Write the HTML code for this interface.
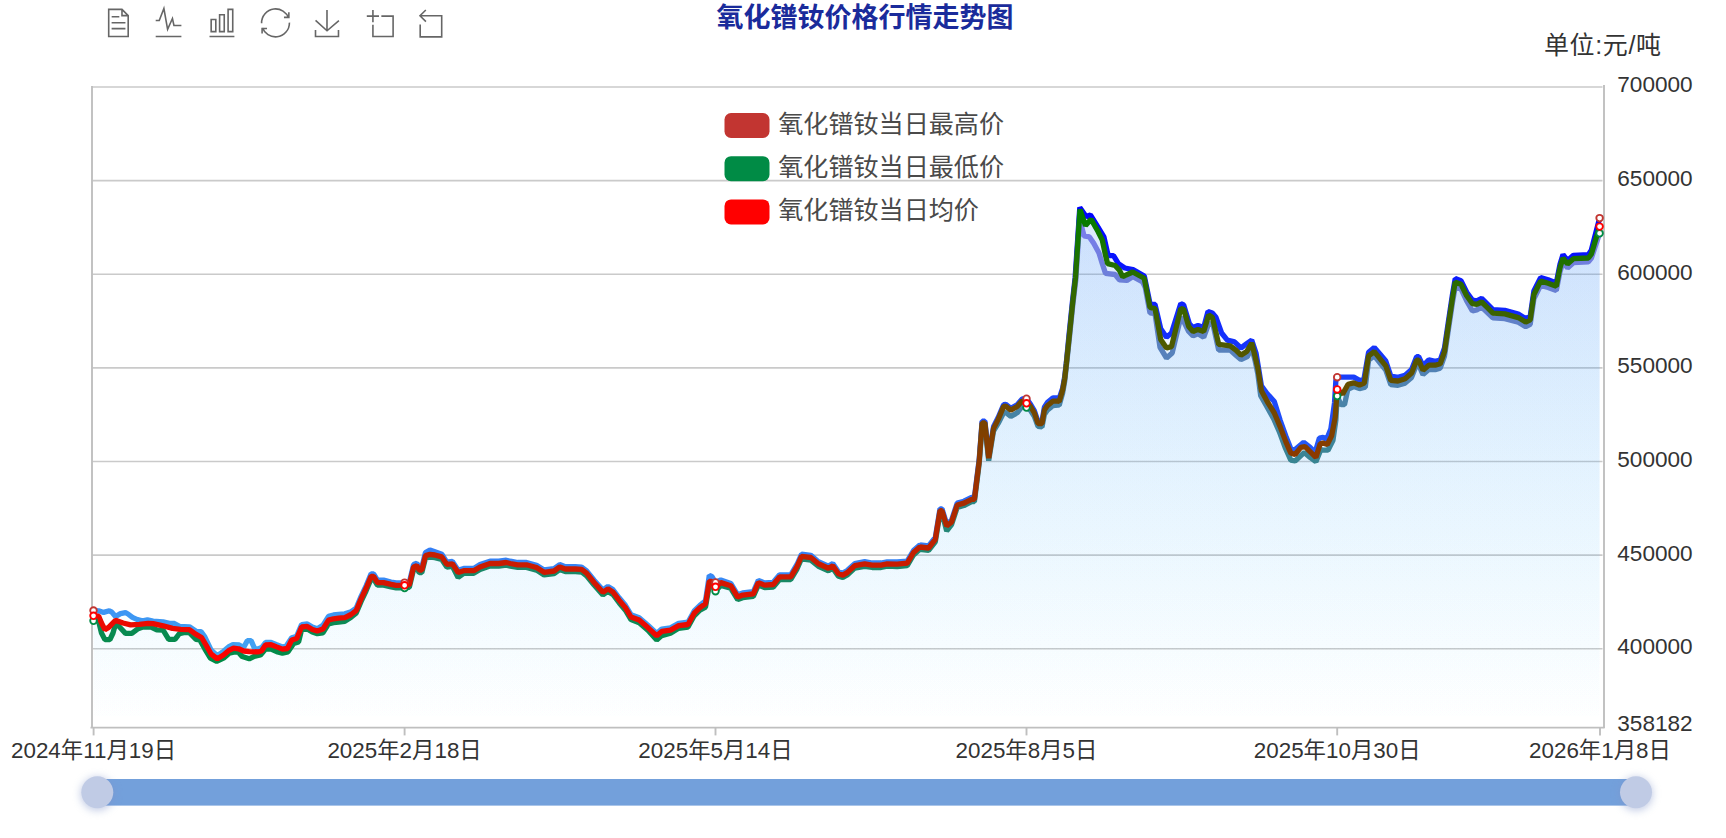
<!DOCTYPE html>
<html lang="zh-CN"><head><meta charset="utf-8"><title>氧化镨钕价格行情走势图</title>
<style>
html,body{margin:0;padding:0;background:#fff;}
body{width:1726px;height:838px;overflow:hidden;font-family:"Liberation Sans","Noto Sans CJK SC",sans-serif;}
svg{display:block;}
text{font-family:"Liberation Sans","Noto Sans CJK SC",sans-serif;}
</style></head><body>
<svg width="1726" height="838" viewBox="0 0 1726 838">
<defs>
<linearGradient id="gAvg" gradientUnits="userSpaceOnUse" x1="0" y1="207" x2="0" y2="660"><stop offset="0" stop-color="#008000"/><stop offset="1" stop-color="#ff0000"/></linearGradient>
<linearGradient id="gHigh" gradientUnits="userSpaceOnUse" x1="0" y1="205" x2="0" y2="657"><stop offset="0" stop-color="#0000ff"/><stop offset="1" stop-color="#44a6f2"/></linearGradient>
<linearGradient id="gLow" gradientUnits="userSpaceOnUse" x1="0" y1="211" x2="0" y2="663"><stop offset="0" stop-color="#7f7df2"/><stop offset="1" stop-color="#008b45"/></linearGradient>
<linearGradient id="gArea" gradientUnits="userSpaceOnUse" x1="0" y1="207" x2="0" y2="727"><stop offset="0" stop-color="#3a84f5" stop-opacity="0.097"/><stop offset="1" stop-color="#34c4ff" stop-opacity="0"/></linearGradient>
<filter id="hs" x="-100%" y="-100%" width="300%" height="300%"><feGaussianBlur stdDeviation="4.5"/></filter>
</defs>
<rect width="1726" height="838" fill="#fff"/>

<line x1="92" y1="87.0" x2="1602.5" y2="87.0" stroke="#cacaca" stroke-width="1.6"/>
<line x1="92" y1="180.6" x2="1602.5" y2="180.6" stroke="#cacaca" stroke-width="1.6"/>
<line x1="92" y1="274.2" x2="1602.5" y2="274.2" stroke="#cacaca" stroke-width="1.6"/>
<line x1="92" y1="367.9" x2="1602.5" y2="367.9" stroke="#cacaca" stroke-width="1.6"/>
<line x1="92" y1="461.5" x2="1602.5" y2="461.5" stroke="#cacaca" stroke-width="1.6"/>
<line x1="92" y1="555.1" x2="1602.5" y2="555.1" stroke="#cacaca" stroke-width="1.6"/>
<line x1="92" y1="648.7" x2="1602.5" y2="648.7" stroke="#cacaca" stroke-width="1.6"/>
<line x1="92" y1="86" x2="92" y2="728" stroke="#bfbfbf" stroke-width="1.9"/>
<line x1="1604" y1="85" x2="1604" y2="728" stroke="#bfbfbf" stroke-width="1.9"/>
<line x1="90.5" y1="727.6" x2="1604.6" y2="727.6" stroke="#bfbfbf" stroke-width="1.9"/>
<line x1="93.6" y1="727.6" x2="93.6" y2="735.4" stroke="#bfbfbf" stroke-width="1.9"/>
<line x1="404.6" y1="727.6" x2="404.6" y2="735.4" stroke="#bfbfbf" stroke-width="1.9"/>
<line x1="715.5" y1="727.6" x2="715.5" y2="735.4" stroke="#bfbfbf" stroke-width="1.9"/>
<line x1="1026.5" y1="727.6" x2="1026.5" y2="735.4" stroke="#bfbfbf" stroke-width="1.9"/>
<line x1="1337.2" y1="727.6" x2="1337.2" y2="735.4" stroke="#bfbfbf" stroke-width="1.9"/>
<line x1="1600.0" y1="727.6" x2="1600.0" y2="735.4" stroke="#bfbfbf" stroke-width="1.9"/>
<path d="M93.5,727.5 L93.5,610.5 L98.6,610.8 L103.6,612.4 L109.3,610.8 L111.8,612.1 L115.5,616.5 L120.5,613.6 L125.5,612.7 L128.0,614.0 L132.4,617.4 L137.4,619.6 L142.4,620.8 L147.4,619.9 L153.1,621.2 L163.1,621.8 L169.4,623.3 L174.4,623.5 L180.0,626.5 L189.4,626.8 L196.0,631.3 L201.0,631.6 L204.8,636.9 L211.0,650.0 L217.3,655.7 L223.5,651.3 L228.5,646.9 L232.9,644.7 L239.2,645.0 L243.6,647.5 L247.3,640.7 L251.1,640.7 L254.8,648.8 L258.6,648.8 L261.7,647.5 L265.5,642.5 L271.1,642.5 L276.7,644.7 L282.4,646.9 L286.1,646.3 L291.7,637.8 L296.1,636.6 L296.7,636.1 L301.6,624.6 L307.3,624.0 L312.3,627.1 L317.3,628.7 L322.9,625.3 L328.5,616.3 L333.5,615.0 L338.6,614.4 L344.8,613.8 L351.1,611.7 L356.1,608.3 L361.1,596.4 L366.1,585.8 L371.1,573.9 L373.6,573.9 L377.4,580.2 L383.6,580.2 L391.1,582.0 L396.1,582.9 L404.6,582.9 L409.3,582.4 L413.6,564.5 L416.8,563.3 L419.3,567.6 L421.8,567.4 L425.5,552.5 L429.9,550.0 L434.9,551.8 L441.8,554.3 L446.8,562.1 L452.4,561.5 L458.1,570.2 L463.7,568.4 L473.7,568.4 L480.0,564.6 L490.0,561.2 L498.8,561.2 L506.3,560.2 L510.3,561.2 L517.8,562.5 L526.5,562.5 L536.5,565.2 L544.1,570.0 L554.1,568.7 L559.7,564.6 L565.3,566.7 L575.3,566.7 L581.6,567.1 L586.6,570.9 L594.1,580.2 L602.9,590.0 L607.9,586.5 L612.9,589.6 L619.1,597.8 L625.4,605.3 L631.0,614.7 L639.2,617.8 L647.9,625.3 L656.7,633.4 L661.7,629.1 L670.5,627.8 L678.6,623.4 L688.0,622.2 L694.2,610.9 L699.9,605.3 L705.5,600.9 L709.3,575.4 L711.8,576.5 L715.5,582.5 L720.8,580.0 L730.8,583.5 L737.7,594.8 L742.7,592.9 L753.3,591.7 L758.3,580.4 L764.6,582.9 L773.3,582.3 L779.6,574.8 L790.8,574.8 L797.1,564.2 L801.5,554.2 L810.9,555.4 L818.4,561.7 L828.4,566.1 L832.8,563.6 L838.4,571.7 L842.8,573.0 L847.2,570.5 L854.7,563.6 L864.7,561.7 L872.2,563.0 L881.0,563.0 L887.2,561.8 L897.2,562.0 L907.2,561.2 L913.5,550.5 L919.8,544.9 L920.0,545.0 L928.6,546.0 L935.3,537.4 L940.0,508.8 L942.0,508.8 L946.7,524.1 L951.5,520.3 L957.2,503.1 L963.9,501.2 L971.6,497.4 L974.4,497.4 L979.2,459.2 L982.1,421.1 L984.9,421.1 L988.7,456.4 L993.5,426.8 L998.3,417.3 L1003.6,404.7 L1005.8,404.4 L1010.8,408.3 L1017.2,404.7 L1022.2,399.0 L1026.5,398.7 L1030.1,403.5 L1034.4,410.9 L1038.0,421.5 L1042.0,421.1 L1044.4,407.2 L1047.3,402.6 L1051.6,399.0 L1053.0,398.0 L1058.0,398.0 L1059.2,398.7 L1062.6,388.4 L1064.7,376.8 L1066.4,361.9 L1068.9,336.0 L1072.3,303.0 L1075.1,278.0 L1079.8,207.5 L1086.1,216.5 L1090.4,214.9 L1098.0,227.2 L1103.9,236.9 L1107.6,253.0 L1108.7,255.7 L1113.5,255.7 L1118.4,263.7 L1124.8,268.0 L1133.0,269.6 L1144.3,276.0 L1150.0,303.6 L1155.0,304.3 L1160.7,328.7 L1166.5,337.3 L1171.5,333.0 L1180.8,303.6 L1183.7,305.0 L1189.4,323.7 L1193.0,327.5 L1198.0,325.5 L1203.7,327.5 L1208.0,311.5 L1212.3,312.9 L1215.9,317.2 L1221.6,333.0 L1227.3,340.1 L1234.5,341.8 L1240.9,348.0 L1246.7,343.7 L1251.7,340.1 L1256.0,353.0 L1257.9,364.3 L1261.4,385.8 L1267.2,393.7 L1274.3,401.5 L1280.1,420.1 L1285.8,435.9 L1290.8,448.8 L1295.1,449.5 L1303.7,442.3 L1310.1,447.4 L1315.1,452.4 L1319.4,438.0 L1323.0,437.3 L1326.6,439.5 L1330.9,428.7 L1334.5,403.0 L1335.9,380.0 L1337.2,377.2 L1353.8,377.2 L1359.5,380.3 L1363.8,380.0 L1368.6,352.3 L1374.3,347.5 L1380.1,354.2 L1385.8,361.0 L1390.8,376.1 L1398.0,377.4 L1405.1,375.2 L1411.6,369.5 L1416.6,356.6 L1418.7,356.6 L1423.0,365.9 L1428.8,359.9 L1435.2,361.4 L1440.2,360.2 L1444.5,348.0 L1448.1,323.7 L1452.4,295.0 L1455.2,278.6 L1461.0,280.7 L1466.7,292.2 L1472.4,300.1 L1476.7,300.9 L1481.7,298.5 L1487.7,304.4 L1492.9,309.6 L1504.8,310.4 L1518.3,314.1 L1525.7,318.6 L1530.2,316.4 L1533.9,291.0 L1540.6,277.6 L1548.1,279.8 L1556.3,282.9 L1560.0,264.2 L1563.0,254.6 L1567.5,260.5 L1573.4,255.3 L1588.4,254.6 L1591.3,250.1 L1599.6,218.1 L1599.6,727.5 Z" fill="url(#gArea)"/>
<path d="M93.5,727.5 L93.5,620.8 L98.6,621.2 L101.5,633.0 L104.9,639.6 L109.9,639.6 L113.0,633.0 L115.8,623.0 L120.5,628.0 L125.5,633.4 L131.8,633.4 L138.1,628.7 L143.1,627.1 L150.6,626.8 L156.8,629.9 L163.1,630.2 L168.7,639.3 L175.0,639.3 L179.4,633.7 L183.7,632.7 L189.4,632.7 L196.0,639.4 L199.8,640.0 L204.8,648.8 L210.4,658.2 L216.7,661.3 L223.5,658.2 L229.2,653.2 L234.8,651.9 L238.6,652.5 L242.3,656.6 L249.2,658.8 L254.2,656.3 L260.5,655.0 L265.5,649.1 L270.5,648.8 L276.7,651.6 L282.4,653.2 L288.0,651.9 L293.6,643.5 L298.6,641.9 L301.6,629.6 L307.3,629.0 L312.3,632.1 L317.3,633.7 L322.9,632.9 L328.5,623.9 L333.5,622.6 L338.6,622.0 L344.8,621.4 L351.1,617.3 L356.1,613.3 L361.1,601.4 L366.1,590.8 L371.1,578.9 L373.6,578.9 L377.4,585.2 L383.6,585.2 L391.1,587.0 L396.1,587.9 L404.6,587.9 L409.3,587.4 L413.6,569.5 L416.8,568.3 L419.3,572.6 L421.8,572.6 L425.5,558.2 L429.9,557.0 L434.9,557.6 L441.8,559.5 L446.8,567.0 L452.4,566.4 L458.1,577.5 L463.7,573.3 L473.7,573.3 L480.0,569.5 L490.0,566.1 L498.8,566.1 L506.3,565.1 L510.3,566.1 L517.8,567.4 L526.5,567.4 L536.5,570.1 L544.1,574.9 L554.1,573.6 L559.7,569.5 L565.3,571.6 L575.3,571.6 L581.6,572.0 L586.6,575.8 L594.1,585.1 L602.9,594.9 L607.9,591.4 L612.9,594.5 L619.1,602.7 L625.4,610.2 L631.0,619.6 L639.2,622.7 L647.9,630.2 L656.7,639.9 L661.7,635.6 L670.5,633.3 L678.6,628.3 L688.0,627.1 L694.2,615.8 L699.9,610.2 L705.5,607.1 L709.3,585.0 L711.8,585.3 L715.5,591.3 L720.8,585.5 L730.8,588.3 L737.7,599.6 L742.7,597.7 L753.3,596.4 L758.3,585.1 L764.6,587.6 L773.3,587.0 L779.6,579.5 L790.8,579.5 L797.1,568.8 L801.5,558.8 L810.9,560.1 L818.4,566.3 L828.4,570.7 L832.8,568.2 L838.4,576.3 L842.8,577.5 L847.2,575.0 L854.7,568.1 L864.7,566.3 L872.2,567.5 L881.0,567.5 L887.2,566.2 L897.2,566.5 L907.2,565.6 L913.5,554.9 L919.8,549.3 L920.0,549.4 L928.6,550.4 L935.3,541.8 L940.0,513.1 L942.0,513.1 L946.7,531.0 L951.5,524.6 L957.2,507.4 L963.9,505.5 L971.6,501.7 L974.4,501.7 L979.2,463.6 L982.1,425.4 L984.9,425.4 L988.7,460.7 L993.5,431.1 L998.3,423.2 L1003.6,412.8 L1005.8,412.5 L1010.8,416.4 L1017.2,412.8 L1022.2,406.2 L1026.5,407.6 L1030.1,409.9 L1034.4,416.5 L1038.0,426.4 L1042.0,427.0 L1044.4,414.6 L1047.3,410.3 L1051.6,406.7 L1053.0,405.7 L1058.0,405.2 L1059.2,405.2 L1062.6,393.2 L1064.7,381.2 L1066.4,365.8 L1069.4,338.0 L1072.8,305.0 L1075.8,280.0 L1080.2,212.0 L1082.0,228.3 L1084.0,235.8 L1089.4,236.9 L1093.7,243.3 L1099.0,253.0 L1102.3,263.7 L1105.5,273.4 L1115.1,274.5 L1119.4,279.8 L1126.9,280.4 L1133.0,276.6 L1142.6,281.8 L1145.2,287.3 L1150.0,312.9 L1155.0,313.6 L1160.0,347.3 L1166.5,358.0 L1172.2,353.0 L1180.8,317.2 L1184.4,322.9 L1188.7,331.5 L1193.0,335.8 L1198.0,333.7 L1203.7,337.3 L1208.7,323.7 L1213.0,324.4 L1218.7,350.1 L1230.2,350.1 L1235.9,355.2 L1240.9,359.5 L1247.4,356.6 L1251.7,347.3 L1255.3,361.6 L1257.9,374.3 L1260.7,395.8 L1267.2,407.3 L1273.6,418.7 L1279.3,431.6 L1285.1,447.4 L1290.8,460.2 L1295.1,461.0 L1304.4,452.4 L1310.1,457.4 L1315.9,461.7 L1320.9,449.5 L1323.7,450.2 L1328.0,450.2 L1333.0,440.2 L1335.9,420.1 L1337.2,396.1 L1340.9,404.7 L1344.5,404.7 L1347.8,389.4 L1353.8,386.5 L1359.5,388.6 L1365.3,387.2 L1368.6,360.1 L1374.3,355.8 L1380.1,363.0 L1385.8,370.2 L1390.8,384.6 L1398.0,385.3 L1405.1,383.1 L1411.6,377.4 L1416.6,364.6 L1418.7,364.6 L1423.0,374.6 L1428.8,369.6 L1435.2,369.6 L1440.2,368.2 L1444.5,356.0 L1448.1,331.7 L1452.4,303.1 L1455.2,286.7 L1461.0,288.8 L1466.7,301.0 L1472.4,311.0 L1476.7,309.9 L1481.7,307.0 L1487.7,312.8 L1492.9,317.9 L1504.8,318.6 L1518.3,322.2 L1525.7,326.6 L1530.2,324.3 L1533.9,298.9 L1540.6,285.4 L1548.1,287.5 L1556.3,290.5 L1560.0,271.7 L1563.0,262.1 L1567.5,267.9 L1573.4,262.7 L1588.4,261.8 L1591.3,258.4 L1599.6,233.3 L1599.6,727.5 Z" fill="url(#gArea)"/>
<path d="M93.5,727.5 L93.5,615.8 L98.6,616.1 L101.5,623.0 L104.9,629.6 L108.7,627.4 L115.5,620.2 L123.0,623.0 L130.6,624.9 L139.3,624.3 L148.1,623.3 L153.1,623.7 L163.1,625.8 L172.5,628.4 L180.6,629.3 L189.4,629.6 L196.0,634.4 L201.6,637.5 L206.0,645.0 L211.0,653.8 L217.3,658.8 L223.5,655.0 L228.5,650.7 L233.5,648.2 L238.6,648.8 L243.6,651.0 L249.2,651.6 L258.6,651.9 L261.7,650.7 L265.5,645.0 L271.1,644.7 L276.7,646.9 L282.4,649.1 L287.4,648.5 L291.7,640.0 L296.7,638.5 L301.6,627.0 L307.3,626.4 L312.3,629.5 L317.3,631.1 L322.9,629.1 L328.5,620.1 L333.5,618.8 L338.6,618.2 L344.8,617.6 L351.1,614.5 L356.1,610.7 L361.1,598.8 L366.1,588.2 L371.1,576.3 L373.6,576.3 L377.4,582.6 L383.6,582.6 L391.1,584.4 L396.1,585.3 L404.6,585.3 L409.3,584.8 L413.6,566.9 L416.8,565.7 L419.3,570.0 L421.8,570.0 L425.5,555.6 L429.9,554.4 L434.9,555.0 L441.8,556.9 L446.8,564.4 L452.4,563.8 L458.1,572.5 L463.7,570.7 L473.7,570.7 L480.0,566.9 L490.0,563.5 L498.8,563.5 L506.3,562.5 L510.3,563.5 L517.8,564.8 L526.5,564.8 L536.5,567.5 L544.1,572.3 L554.1,571.0 L559.7,566.9 L565.3,569.0 L575.3,569.0 L581.6,569.4 L586.6,573.2 L594.1,582.5 L602.9,592.3 L607.9,588.8 L612.9,591.9 L619.1,600.1 L625.4,607.6 L631.0,617.0 L639.2,620.1 L647.9,627.6 L656.7,635.7 L661.7,631.4 L670.5,630.1 L678.6,625.7 L688.0,624.5 L694.2,613.2 L699.9,607.6 L705.5,603.8 L709.3,581.3 L711.8,581.3 L715.5,586.9 L720.8,582.6 L730.8,585.7 L737.7,597.0 L742.7,595.1 L753.3,593.8 L758.3,582.6 L764.6,585.1 L773.3,584.5 L779.6,576.9 L790.8,576.9 L797.1,566.3 L801.5,556.3 L810.9,557.5 L818.4,563.8 L828.4,568.2 L832.8,565.7 L838.4,573.8 L842.8,575.1 L847.2,572.6 L854.7,565.7 L864.7,563.8 L872.2,565.1 L881.0,565.1 L887.2,563.8 L897.2,564.1 L907.2,563.2 L913.5,552.5 L919.8,546.9 L920.0,547.0 L928.6,548.0 L935.3,539.4 L940.0,510.7 L942.0,510.7 L946.7,526.0 L951.5,522.2 L957.2,505.0 L963.9,503.1 L971.6,499.3 L974.4,499.3 L979.2,461.1 L982.1,422.9 L984.9,422.9 L988.7,458.2 L993.5,428.6 L998.3,419.1 L1003.6,406.5 L1005.8,406.2 L1010.8,410.1 L1017.2,406.5 L1022.2,400.8 L1026.5,403.3 L1030.1,405.8 L1034.4,413.0 L1038.0,423.5 L1042.0,423.5 L1044.4,410.1 L1047.3,405.8 L1051.6,402.2 L1053.0,401.2 L1058.0,401.2 L1059.2,401.5 L1062.6,390.3 L1064.7,378.6 L1066.4,363.5 L1069.2,336.8 L1072.6,303.4 L1075.5,278.0 L1080.0,209.5 L1085.5,225.6 L1091.0,219.3 L1098.0,231.5 L1102.3,240.1 L1105.5,255.1 L1107.6,263.7 L1115.1,265.5 L1119.4,270.2 L1122.7,276.7 L1132.7,272.0 L1144.2,278.3 L1150.0,307.5 L1155.0,308.6 L1160.7,339.4 L1166.5,348.0 L1171.5,346.6 L1180.8,308.6 L1183.7,309.3 L1188.7,326.5 L1193.0,331.5 L1198.0,329.4 L1203.7,331.5 L1208.7,315.1 L1212.3,317.2 L1218.7,344.4 L1230.2,345.8 L1235.9,350.1 L1240.9,355.2 L1246.7,351.6 L1251.7,343.0 L1255.3,357.3 L1257.9,368.6 L1261.4,390.8 L1267.2,401.5 L1274.3,413.0 L1280.1,426.6 L1285.8,441.6 L1290.8,453.1 L1295.1,454.5 L1300.8,447.4 L1305.1,446.6 L1310.1,451.7 L1315.9,457.4 L1320.2,443.8 L1323.0,443.1 L1327.3,444.5 L1331.6,435.9 L1335.2,417.3 L1337.2,389.4 L1342.6,394.1 L1348.1,384.3 L1353.8,382.9 L1359.5,385.1 L1364.3,383.1 L1368.6,355.9 L1374.3,351.6 L1380.1,358.8 L1385.8,365.9 L1390.8,380.3 L1398.0,381.0 L1405.1,378.8 L1411.6,373.1 L1416.6,360.2 L1418.7,360.2 L1423.0,370.2 L1428.8,365.2 L1435.2,365.2 L1440.2,363.8 L1444.5,351.6 L1448.1,327.3 L1452.4,298.6 L1455.2,282.2 L1461.0,284.3 L1466.7,295.8 L1472.4,303.7 L1476.7,304.4 L1481.7,302.0 L1487.7,307.9 L1492.9,313.1 L1504.8,313.9 L1518.3,317.6 L1525.7,322.1 L1530.2,319.9 L1533.9,294.5 L1540.6,281.1 L1548.1,283.3 L1556.3,286.3 L1560.0,267.6 L1563.0,258.0 L1567.5,263.9 L1573.4,258.7 L1588.4,258.0 L1591.3,254.2 L1599.6,226.6 L1599.6,727.5 Z" fill="url(#gArea)"/>
<polyline points="93.5,610.5 98.6,610.8 103.6,612.4 109.3,610.8 111.8,612.1 115.5,616.5 120.5,613.6 125.5,612.7 128.0,614.0 132.4,617.4 137.4,619.6 142.4,620.8 147.4,619.9 153.1,621.2 163.1,621.8 169.4,623.3 174.4,623.5 180.0,626.5 189.4,626.8 196.0,631.3 201.0,631.6 204.8,636.9 211.0,650.0 217.3,655.7 223.5,651.3 228.5,646.9 232.9,644.7 239.2,645.0 243.6,647.5 247.3,640.7 251.1,640.7 254.8,648.8 258.6,648.8 261.7,647.5 265.5,642.5 271.1,642.5 276.7,644.7 282.4,646.9 286.1,646.3 291.7,637.8 296.1,636.6 296.7,636.1 301.6,624.6 307.3,624.0 312.3,627.1 317.3,628.7 322.9,625.3 328.5,616.3 333.5,615.0 338.6,614.4 344.8,613.8 351.1,611.7 356.1,608.3 361.1,596.4 366.1,585.8 371.1,573.9 373.6,573.9 377.4,580.2 383.6,580.2 391.1,582.0 396.1,582.9 404.6,582.9 409.3,582.4 413.6,564.5 416.8,563.3 419.3,567.6 421.8,567.4 425.5,552.5 429.9,550.0 434.9,551.8 441.8,554.3 446.8,562.1 452.4,561.5 458.1,570.2 463.7,568.4 473.7,568.4 480.0,564.6 490.0,561.2 498.8,561.2 506.3,560.2 510.3,561.2 517.8,562.5 526.5,562.5 536.5,565.2 544.1,570.0 554.1,568.7 559.7,564.6 565.3,566.7 575.3,566.7 581.6,567.1 586.6,570.9 594.1,580.2 602.9,590.0 607.9,586.5 612.9,589.6 619.1,597.8 625.4,605.3 631.0,614.7 639.2,617.8 647.9,625.3 656.7,633.4 661.7,629.1 670.5,627.8 678.6,623.4 688.0,622.2 694.2,610.9 699.9,605.3 705.5,600.9 709.3,575.4 711.8,576.5 715.5,582.5 720.8,580.0 730.8,583.5 737.7,594.8 742.7,592.9 753.3,591.7 758.3,580.4 764.6,582.9 773.3,582.3 779.6,574.8 790.8,574.8 797.1,564.2 801.5,554.2 810.9,555.4 818.4,561.7 828.4,566.1 832.8,563.6 838.4,571.7 842.8,573.0 847.2,570.5 854.7,563.6 864.7,561.7 872.2,563.0 881.0,563.0 887.2,561.8 897.2,562.0 907.2,561.2 913.5,550.5 919.8,544.9 920.0,545.0 928.6,546.0 935.3,537.4 940.0,508.8 942.0,508.8 946.7,524.1 951.5,520.3 957.2,503.1 963.9,501.2 971.6,497.4 974.4,497.4 979.2,459.2 982.1,421.1 984.9,421.1 988.7,456.4 993.5,426.8 998.3,417.3 1003.6,404.7 1005.8,404.4 1010.8,408.3 1017.2,404.7 1022.2,399.0 1026.5,398.7 1030.1,403.5 1034.4,410.9 1038.0,421.5 1042.0,421.1 1044.4,407.2 1047.3,402.6 1051.6,399.0 1053.0,398.0 1058.0,398.0 1059.2,398.7 1062.6,388.4 1064.7,376.8 1066.4,361.9 1068.9,336.0 1072.3,303.0 1075.1,278.0 1079.8,207.5 1086.1,216.5 1090.4,214.9 1098.0,227.2 1103.9,236.9 1107.6,253.0 1108.7,255.7 1113.5,255.7 1118.4,263.7 1124.8,268.0 1133.0,269.6 1144.3,276.0 1150.0,303.6 1155.0,304.3 1160.7,328.7 1166.5,337.3 1171.5,333.0 1180.8,303.6 1183.7,305.0 1189.4,323.7 1193.0,327.5 1198.0,325.5 1203.7,327.5 1208.0,311.5 1212.3,312.9 1215.9,317.2 1221.6,333.0 1227.3,340.1 1234.5,341.8 1240.9,348.0 1246.7,343.7 1251.7,340.1 1256.0,353.0 1257.9,364.3 1261.4,385.8 1267.2,393.7 1274.3,401.5 1280.1,420.1 1285.8,435.9 1290.8,448.8 1295.1,449.5 1303.7,442.3 1310.1,447.4 1315.1,452.4 1319.4,438.0 1323.0,437.3 1326.6,439.5 1330.9,428.7 1334.5,403.0 1335.9,380.0 1337.2,377.2 1353.8,377.2 1359.5,380.3 1363.8,380.0 1368.6,352.3 1374.3,347.5 1380.1,354.2 1385.8,361.0 1390.8,376.1 1398.0,377.4 1405.1,375.2 1411.6,369.5 1416.6,356.6 1418.7,356.6 1423.0,365.9 1428.8,359.9 1435.2,361.4 1440.2,360.2 1444.5,348.0 1448.1,323.7 1452.4,295.0 1455.2,278.6 1461.0,280.7 1466.7,292.2 1472.4,300.1 1476.7,300.9 1481.7,298.5 1487.7,304.4 1492.9,309.6 1504.8,310.4 1518.3,314.1 1525.7,318.6 1530.2,316.4 1533.9,291.0 1540.6,277.6 1548.1,279.8 1556.3,282.9 1560.0,264.2 1563.0,254.6 1567.5,260.5 1573.4,255.3 1588.4,254.6 1591.3,250.1 1599.6,218.1" fill="none" stroke="url(#gHigh)" stroke-width="5.3" stroke-linejoin="bevel" stroke-linecap="butt"/>
<polyline points="93.5,620.8 98.6,621.2 101.5,633.0 104.9,639.6 109.9,639.6 113.0,633.0 115.8,623.0 120.5,628.0 125.5,633.4 131.8,633.4 138.1,628.7 143.1,627.1 150.6,626.8 156.8,629.9 163.1,630.2 168.7,639.3 175.0,639.3 179.4,633.7 183.7,632.7 189.4,632.7 196.0,639.4 199.8,640.0 204.8,648.8 210.4,658.2 216.7,661.3 223.5,658.2 229.2,653.2 234.8,651.9 238.6,652.5 242.3,656.6 249.2,658.8 254.2,656.3 260.5,655.0 265.5,649.1 270.5,648.8 276.7,651.6 282.4,653.2 288.0,651.9 293.6,643.5 298.6,641.9 301.6,629.6 307.3,629.0 312.3,632.1 317.3,633.7 322.9,632.9 328.5,623.9 333.5,622.6 338.6,622.0 344.8,621.4 351.1,617.3 356.1,613.3 361.1,601.4 366.1,590.8 371.1,578.9 373.6,578.9 377.4,585.2 383.6,585.2 391.1,587.0 396.1,587.9 404.6,587.9 409.3,587.4 413.6,569.5 416.8,568.3 419.3,572.6 421.8,572.6 425.5,558.2 429.9,557.0 434.9,557.6 441.8,559.5 446.8,567.0 452.4,566.4 458.1,577.5 463.7,573.3 473.7,573.3 480.0,569.5 490.0,566.1 498.8,566.1 506.3,565.1 510.3,566.1 517.8,567.4 526.5,567.4 536.5,570.1 544.1,574.9 554.1,573.6 559.7,569.5 565.3,571.6 575.3,571.6 581.6,572.0 586.6,575.8 594.1,585.1 602.9,594.9 607.9,591.4 612.9,594.5 619.1,602.7 625.4,610.2 631.0,619.6 639.2,622.7 647.9,630.2 656.7,639.9 661.7,635.6 670.5,633.3 678.6,628.3 688.0,627.1 694.2,615.8 699.9,610.2 705.5,607.1 709.3,585.0 711.8,585.3 715.5,591.3 720.8,585.5 730.8,588.3 737.7,599.6 742.7,597.7 753.3,596.4 758.3,585.1 764.6,587.6 773.3,587.0 779.6,579.5 790.8,579.5 797.1,568.8 801.5,558.8 810.9,560.1 818.4,566.3 828.4,570.7 832.8,568.2 838.4,576.3 842.8,577.5 847.2,575.0 854.7,568.1 864.7,566.3 872.2,567.5 881.0,567.5 887.2,566.2 897.2,566.5 907.2,565.6 913.5,554.9 919.8,549.3 920.0,549.4 928.6,550.4 935.3,541.8 940.0,513.1 942.0,513.1 946.7,531.0 951.5,524.6 957.2,507.4 963.9,505.5 971.6,501.7 974.4,501.7 979.2,463.6 982.1,425.4 984.9,425.4 988.7,460.7 993.5,431.1 998.3,423.2 1003.6,412.8 1005.8,412.5 1010.8,416.4 1017.2,412.8 1022.2,406.2 1026.5,407.6 1030.1,409.9 1034.4,416.5 1038.0,426.4 1042.0,427.0 1044.4,414.6 1047.3,410.3 1051.6,406.7 1053.0,405.7 1058.0,405.2 1059.2,405.2 1062.6,393.2 1064.7,381.2 1066.4,365.8 1069.4,338.0 1072.8,305.0 1075.8,280.0 1080.2,212.0 1082.0,228.3 1084.0,235.8 1089.4,236.9 1093.7,243.3 1099.0,253.0 1102.3,263.7 1105.5,273.4 1115.1,274.5 1119.4,279.8 1126.9,280.4 1133.0,276.6 1142.6,281.8 1145.2,287.3 1150.0,312.9 1155.0,313.6 1160.0,347.3 1166.5,358.0 1172.2,353.0 1180.8,317.2 1184.4,322.9 1188.7,331.5 1193.0,335.8 1198.0,333.7 1203.7,337.3 1208.7,323.7 1213.0,324.4 1218.7,350.1 1230.2,350.1 1235.9,355.2 1240.9,359.5 1247.4,356.6 1251.7,347.3 1255.3,361.6 1257.9,374.3 1260.7,395.8 1267.2,407.3 1273.6,418.7 1279.3,431.6 1285.1,447.4 1290.8,460.2 1295.1,461.0 1304.4,452.4 1310.1,457.4 1315.9,461.7 1320.9,449.5 1323.7,450.2 1328.0,450.2 1333.0,440.2 1335.9,420.1 1337.2,396.1 1340.9,404.7 1344.5,404.7 1347.8,389.4 1353.8,386.5 1359.5,388.6 1365.3,387.2 1368.6,360.1 1374.3,355.8 1380.1,363.0 1385.8,370.2 1390.8,384.6 1398.0,385.3 1405.1,383.1 1411.6,377.4 1416.6,364.6 1418.7,364.6 1423.0,374.6 1428.8,369.6 1435.2,369.6 1440.2,368.2 1444.5,356.0 1448.1,331.7 1452.4,303.1 1455.2,286.7 1461.0,288.8 1466.7,301.0 1472.4,311.0 1476.7,309.9 1481.7,307.0 1487.7,312.8 1492.9,317.9 1504.8,318.6 1518.3,322.2 1525.7,326.6 1530.2,324.3 1533.9,298.9 1540.6,285.4 1548.1,287.5 1556.3,290.5 1560.0,271.7 1563.0,262.1 1567.5,267.9 1573.4,262.7 1588.4,261.8 1591.3,258.4 1599.6,233.3" fill="none" stroke="url(#gLow)" stroke-width="5.3" stroke-linejoin="bevel" stroke-linecap="butt"/>
<polyline points="93.5,615.8 98.6,616.1 101.5,623.0 104.9,629.6 108.7,627.4 115.5,620.2 123.0,623.0 130.6,624.9 139.3,624.3 148.1,623.3 153.1,623.7 163.1,625.8 172.5,628.4 180.6,629.3 189.4,629.6 196.0,634.4 201.6,637.5 206.0,645.0 211.0,653.8 217.3,658.8 223.5,655.0 228.5,650.7 233.5,648.2 238.6,648.8 243.6,651.0 249.2,651.6 258.6,651.9 261.7,650.7 265.5,645.0 271.1,644.7 276.7,646.9 282.4,649.1 287.4,648.5 291.7,640.0 296.7,638.5 301.6,627.0 307.3,626.4 312.3,629.5 317.3,631.1 322.9,629.1 328.5,620.1 333.5,618.8 338.6,618.2 344.8,617.6 351.1,614.5 356.1,610.7 361.1,598.8 366.1,588.2 371.1,576.3 373.6,576.3 377.4,582.6 383.6,582.6 391.1,584.4 396.1,585.3 404.6,585.3 409.3,584.8 413.6,566.9 416.8,565.7 419.3,570.0 421.8,570.0 425.5,555.6 429.9,554.4 434.9,555.0 441.8,556.9 446.8,564.4 452.4,563.8 458.1,572.5 463.7,570.7 473.7,570.7 480.0,566.9 490.0,563.5 498.8,563.5 506.3,562.5 510.3,563.5 517.8,564.8 526.5,564.8 536.5,567.5 544.1,572.3 554.1,571.0 559.7,566.9 565.3,569.0 575.3,569.0 581.6,569.4 586.6,573.2 594.1,582.5 602.9,592.3 607.9,588.8 612.9,591.9 619.1,600.1 625.4,607.6 631.0,617.0 639.2,620.1 647.9,627.6 656.7,635.7 661.7,631.4 670.5,630.1 678.6,625.7 688.0,624.5 694.2,613.2 699.9,607.6 705.5,603.8 709.3,581.3 711.8,581.3 715.5,586.9 720.8,582.6 730.8,585.7 737.7,597.0 742.7,595.1 753.3,593.8 758.3,582.6 764.6,585.1 773.3,584.5 779.6,576.9 790.8,576.9 797.1,566.3 801.5,556.3 810.9,557.5 818.4,563.8 828.4,568.2 832.8,565.7 838.4,573.8 842.8,575.1 847.2,572.6 854.7,565.7 864.7,563.8 872.2,565.1 881.0,565.1 887.2,563.8 897.2,564.1 907.2,563.2 913.5,552.5 919.8,546.9 920.0,547.0 928.6,548.0 935.3,539.4 940.0,510.7 942.0,510.7 946.7,526.0 951.5,522.2 957.2,505.0 963.9,503.1 971.6,499.3 974.4,499.3 979.2,461.1 982.1,422.9 984.9,422.9 988.7,458.2 993.5,428.6 998.3,419.1 1003.6,406.5 1005.8,406.2 1010.8,410.1 1017.2,406.5 1022.2,400.8 1026.5,403.3 1030.1,405.8 1034.4,413.0 1038.0,423.5 1042.0,423.5 1044.4,410.1 1047.3,405.8 1051.6,402.2 1053.0,401.2 1058.0,401.2 1059.2,401.5 1062.6,390.3 1064.7,378.6 1066.4,363.5 1069.2,336.8 1072.6,303.4 1075.5,278.0 1080.0,209.5 1085.5,225.6 1091.0,219.3 1098.0,231.5 1102.3,240.1 1105.5,255.1 1107.6,263.7 1115.1,265.5 1119.4,270.2 1122.7,276.7 1132.7,272.0 1144.2,278.3 1150.0,307.5 1155.0,308.6 1160.7,339.4 1166.5,348.0 1171.5,346.6 1180.8,308.6 1183.7,309.3 1188.7,326.5 1193.0,331.5 1198.0,329.4 1203.7,331.5 1208.7,315.1 1212.3,317.2 1218.7,344.4 1230.2,345.8 1235.9,350.1 1240.9,355.2 1246.7,351.6 1251.7,343.0 1255.3,357.3 1257.9,368.6 1261.4,390.8 1267.2,401.5 1274.3,413.0 1280.1,426.6 1285.8,441.6 1290.8,453.1 1295.1,454.5 1300.8,447.4 1305.1,446.6 1310.1,451.7 1315.9,457.4 1320.2,443.8 1323.0,443.1 1327.3,444.5 1331.6,435.9 1335.2,417.3 1337.2,389.4 1342.6,394.1 1348.1,384.3 1353.8,382.9 1359.5,385.1 1364.3,383.1 1368.6,355.9 1374.3,351.6 1380.1,358.8 1385.8,365.9 1390.8,380.3 1398.0,381.0 1405.1,378.8 1411.6,373.1 1416.6,360.2 1418.7,360.2 1423.0,370.2 1428.8,365.2 1435.2,365.2 1440.2,363.8 1444.5,351.6 1448.1,327.3 1452.4,298.6 1455.2,282.2 1461.0,284.3 1466.7,295.8 1472.4,303.7 1476.7,304.4 1481.7,302.0 1487.7,307.9 1492.9,313.1 1504.8,313.9 1518.3,317.6 1525.7,322.1 1530.2,319.9 1533.9,294.5 1540.6,281.1 1548.1,283.3 1556.3,286.3 1560.0,267.6 1563.0,258.0 1567.5,263.9 1573.4,258.7 1588.4,258.0 1591.3,254.2 1599.6,226.6" fill="none" stroke="url(#gAvg)" stroke-width="5.3" stroke-linejoin="bevel" stroke-linecap="butt"/>
<circle cx="93.5" cy="610.5" r="3.3" fill="#fff" stroke="#c23531" stroke-width="1.85"/>
<circle cx="93.5" cy="620.8" r="3.3" fill="#fff" stroke="#008b45" stroke-width="1.85"/>
<circle cx="93.5" cy="615.8" r="3.3" fill="#fff" stroke="#ff0000" stroke-width="1.85"/>
<circle cx="404.6" cy="582.6" r="3.3" fill="#fff" stroke="#c23531" stroke-width="1.85"/>
<circle cx="404.6" cy="588.0" r="3.3" fill="#fff" stroke="#008b45" stroke-width="1.85"/>
<circle cx="404.6" cy="585.3" r="3.3" fill="#fff" stroke="#ff0000" stroke-width="1.85"/>
<circle cx="715.5" cy="582.4" r="3.3" fill="#fff" stroke="#c23531" stroke-width="1.85"/>
<circle cx="715.5" cy="591.2" r="3.3" fill="#fff" stroke="#008b45" stroke-width="1.85"/>
<circle cx="715.5" cy="586.8" r="3.3" fill="#fff" stroke="#ff0000" stroke-width="1.85"/>
<circle cx="1026.5" cy="398.7" r="3.3" fill="#fff" stroke="#c23531" stroke-width="1.85"/>
<circle cx="1026.5" cy="407.6" r="3.3" fill="#fff" stroke="#008b45" stroke-width="1.85"/>
<circle cx="1026.5" cy="403.3" r="3.3" fill="#fff" stroke="#ff0000" stroke-width="1.85"/>
<circle cx="1337.2" cy="377.2" r="3.3" fill="#fff" stroke="#c23531" stroke-width="1.85"/>
<circle cx="1337.2" cy="396.1" r="3.3" fill="#fff" stroke="#008b45" stroke-width="1.85"/>
<circle cx="1337.2" cy="389.4" r="3.3" fill="#fff" stroke="#ff0000" stroke-width="1.85"/>
<circle cx="1599.6" cy="218.1" r="3.3" fill="#fff" stroke="#c23531" stroke-width="1.85"/>
<circle cx="1599.6" cy="233.3" r="3.3" fill="#fff" stroke="#008b45" stroke-width="1.85"/>
<circle cx="1599.6" cy="226.6" r="3.3" fill="#fff" stroke="#ff0000" stroke-width="1.85"/>
<text x="1617.3" y="92.4" font-size="22.6" fill="#333">700000</text>
<text x="1617.3" y="186.0" font-size="22.6" fill="#333">650000</text>
<text x="1617.3" y="279.6" font-size="22.6" fill="#333">600000</text>
<text x="1617.3" y="373.3" font-size="22.6" fill="#333">550000</text>
<text x="1617.3" y="466.9" font-size="22.6" fill="#333">500000</text>
<text x="1617.3" y="560.5" font-size="22.6" fill="#333">450000</text>
<text x="1617.3" y="654.1" font-size="22.6" fill="#333">400000</text>
<text x="1617.3" y="731.4" font-size="22.6" fill="#333">358182</text>
<text x="93.6" y="758" font-size="22.4" fill="#333" text-anchor="middle">2024年11月19日</text>
<text x="404.6" y="758" font-size="22.4" fill="#333" text-anchor="middle">2025年2月18日</text>
<text x="715.5" y="758" font-size="22.4" fill="#333" text-anchor="middle">2025年5月14日</text>
<text x="1026.5" y="758" font-size="22.4" fill="#333" text-anchor="middle">2025年8月5日</text>
<text x="1337.2" y="758" font-size="22.4" fill="#333" text-anchor="middle">2025年10月30日</text>
<text x="1600.0" y="758" font-size="22.4" fill="#333" text-anchor="middle">2026年1月8日</text>
<text x="1544" y="53.5" font-size="25" fill="#333" textLength="117" lengthAdjust="spacing">单位:元/吨</text>
<text x="865" y="26.5" font-size="27" font-weight="bold" fill="#1a2b9b" text-anchor="middle">氧化镨钕价格行情走势图</text>
<rect x="724.5" y="113" width="45" height="25" rx="6.5" fill="#c23531"/>
<text x="778.2" y="132.6" font-size="25.1" fill="#4a4a4a">氧化镨钕当日最高价</text>
<rect x="724.5" y="156.2" width="45" height="25" rx="6.5" fill="#008b45"/>
<text x="778.2" y="175.8" font-size="25.1" fill="#4a4a4a">氧化镨钕当日最低价</text>
<rect x="724.5" y="199.4" width="45" height="25" rx="6.5" fill="#ff0000"/>
<text x="778.2" y="219.0" font-size="25.1" fill="#4a4a4a">氧化镨钕当日均价</text>
<rect x="97" y="779" width="1539" height="26.6" fill="#73a0db"/>
<circle cx="97.3" cy="793.8" r="16.5" fill="#7f93c8" filter="url(#hs)" opacity="0.5"/>
<circle cx="97.3" cy="792.3" r="16" fill="#c0cbe5"/>
<circle cx="1636" cy="793.8" r="16.5" fill="#7f93c8" filter="url(#hs)" opacity="0.5"/>
<circle cx="1636" cy="792.3" r="16" fill="#c0cbe5"/>
<path d="M17.5,17.3H33 M45.4,29.5h-28 M11.5,2v56H51V14.8L38.4,2H11.5z M38.4,2.2v12.7H51 M45.4,41.7h-28" transform="translate(103.023,8.432) scale(0.4937,0.4839)" fill="none" stroke="#666" stroke-width="1.6" vector-effect="non-scaling-stroke" stroke-linecap="butt"/>
<path d="M4.1,28.9h7.1l9.3-22l7.4,38l9.7-19.7l3,12.8h14.9M4.1,58h51.4" transform="translate(153.650,4.719) scale(0.5000,0.5479)" fill="none" stroke="#666" stroke-width="1.6" vector-effect="non-scaling-stroke" stroke-linecap="butt"/>
<path d="M6.7,22.9h10V48h-10V22.9zM24.9,13h10v35h-10V13zM43.2,2h10v46h-10V2zM3.1,58h53.7" transform="translate(208.063,8.432) scale(0.4637,0.4839)" fill="none" stroke="#666" stroke-width="1.6" vector-effect="non-scaling-stroke" stroke-linecap="butt"/>
<path d="M47,18.9h9.8V8.7 M56.3,20.1 C52.1,9,40.5,0.6,26.8,2.1C12.6,3.7,1.6,16.2,2.1,30.6 M13,41.1H3.1v10.2 M3.7,39.9c4.2,11.1,15.8,19.5,29.5,18 c14.2-1.6,25.2-14.1,24.7-28.5" transform="translate(260.554,7.953) scale(0.4982,0.4982)" fill="none" stroke="#666" stroke-width="1.6" vector-effect="non-scaling-stroke" stroke-linecap="butt"/>
<path d="M4.7,22.9L29.3,45.5L54.7,23.4M4.6,43.6L4.6,58L53.8,58L53.8,43.6M29.2,45.1L29.2,0" transform="translate(313.351,10.000) scale(0.4671,0.4569)" fill="none" stroke="#666" stroke-width="1.6" vector-effect="non-scaling-stroke" stroke-linecap="butt"/>
<path d="M0,13.5h26.9 M13.5,26.9V0 M32.1,13.5H58V58H13.5 V32.1" transform="translate(366.800,10.000) scale(0.4534,0.4569)" fill="none" stroke="#666" stroke-width="1.6" vector-effect="non-scaling-stroke" stroke-linecap="butt"/>
<path d="M22,1.4L9.9,13.5l12.3,12.3 M10.3,13.5H54.9v44.6 H10.3v-26" transform="translate(415.226,9.336) scale(0.4822,0.4744)" fill="none" stroke="#666" stroke-width="1.6" vector-effect="non-scaling-stroke" stroke-linecap="butt"/>
</svg></body></html>
